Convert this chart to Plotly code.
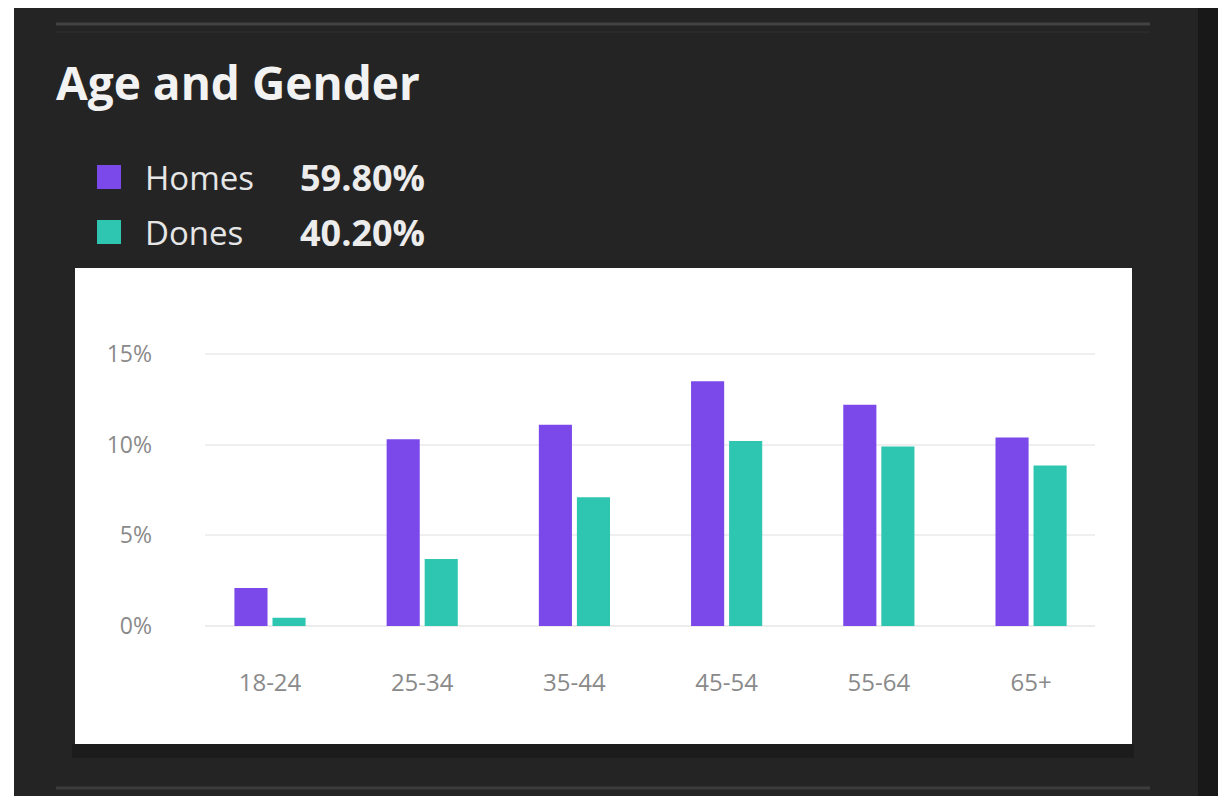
import plotly.graph_objects as go

# ---- data ----
age_groups = ["18-24", "25-34", "35-44", "45-54", "55-64", "65+"]
homes = [2.1, 10.3, 11.1, 13.5, 12.2, 10.4]
dones = [0.45, 3.7, 7.1, 10.2, 9.9, 8.85]
series_names = ["Homes", "Dones"]
series_totals = [59.80, 40.20]
series_colors = ["#7b48ea", "#2ec6b1"]
y_ticks = [0, 5, 10, 15]
y_tick_labels = [f"{v}%" for v in y_ticks]
title_text = "Age and Gender"

W, H = 1218, 796

def px(x):
    return x / W

def py(y):
    return (H - y) / H

fig = go.Figure()
fig.add_trace(go.Bar(x=age_groups, y=homes, name=series_names[0],
                     marker=dict(color=series_colors[0], line=dict(width=0))))
fig.add_trace(go.Bar(x=age_groups, y=dones, name=series_names[1],
                     marker=dict(color=series_colors[1], line=dict(width=0))))

shapes = [
    # light strips on top and left edge
    dict(type="rect", xref="paper", yref="paper", x0=0, x1=1, y0=py(8), y1=1,
         fillcolor="#ffffff", line=dict(width=0), layer="below"),
    dict(type="rect", xref="paper", yref="paper", x0=0, x1=px(14), y0=0, y1=1,
         fillcolor="#ffffff", line=dict(width=0), layer="below"),
    # dark right strip
    dict(type="rect", xref="paper", yref="paper", x0=px(1198), x1=1, y0=0, y1=py(8),
         fillcolor="#181818", line=dict(width=0), layer="below"),
    # separators
    dict(type="line", xref="paper", yref="paper", x0=px(56), x1=px(1150), y0=py(24), y1=py(24),
         line=dict(color="#424242", width=3), layer="below"),
    dict(type="line", xref="paper", yref="paper", x0=px(56), x1=px(1150), y0=py(32), y1=py(32),
         line=dict(color="#2a2a2a", width=2), layer="below"),
    dict(type="line", xref="paper", yref="paper", x0=px(56), x1=px(1150), y0=py(788), y1=py(788),
         line=dict(color="#3c3c3c", width=3), layer="below"),
    # panel shadow
    dict(type="rect", xref="paper", yref="paper", x0=px(72), x1=px(1134), y0=py(758), y1=py(744),
         fillcolor="#1c1c1c", line=dict(width=0), layer="below"),
    # white chart panel
    dict(type="rect", xref="paper", yref="paper", x0=px(75), x1=px(1132), y0=py(744), y1=py(268),
         fillcolor="#ffffff", line=dict(width=0), layer="below"),
]

annotations = [
    dict(text=f"<b>{title_text}</b>", xref="paper", yref="paper", x=px(54), y=py(82),
         xanchor="left", yanchor="middle", showarrow=False,
         font=dict(family="Open Sans", size=46, color="#f2f2f2")),
]

legend_rows_y = [177, 232]
for name, total, color, yy in zip(series_names, series_totals, series_colors, legend_rows_y):
    shapes.append(dict(type="rect", xref="paper", yref="paper",
                       x0=px(97), x1=px(121), y0=py(yy + 12), y1=py(yy - 12),
                       fillcolor=color, line=dict(width=0)))
    annotations.append(dict(text=name, xref="paper", yref="paper", x=px(143), y=py(yy),
                            xanchor="left", yanchor="middle", showarrow=False,
                            font=dict(family="Open Sans", size=33, color="#e6e6e6")))
    annotations.append(dict(text=f"<b>{total:.2f}%</b>", xref="paper", yref="paper",
                            x=px(298), y=py(yy), xanchor="left", yanchor="middle",
                            showarrow=False,
                            font=dict(family="Open Sans", size=36, color="#ececec")))

# plot area: x 205..1095, y 300..626 (0% at 626, 18.13 px per %)
y_top_px, y_zero_px = 300, 626
ppu = 18.13
fig.update_layout(
    width=W, height=H,
    margin=dict(l=0, r=0, t=0, b=0, pad=0, autoexpand=False),
    paper_bgcolor="#242424",
    plot_bgcolor="rgba(0,0,0,0)",
    showlegend=False,
    barmode="group",
    bargap=0.5,
    bargroupgap=0.13,
    shapes=shapes,
    annotations=annotations,
    xaxis=dict(domain=[px(205), px(1095)],
               range=[-0.427, 5.42], automargin=False,
               showgrid=False, zeroline=False, showline=False, ticks="",
               tickfont=dict(family="Open Sans", size=24, color="#8a8a8a"),
               ticklabelstandoff=40),
    yaxis=dict(domain=[py(y_zero_px), py(y_top_px)],
               range=[0, (y_zero_px - y_top_px) / ppu], automargin=False,
               tickmode="array", tickvals=y_ticks, ticktext=y_tick_labels,
               showgrid=True, gridcolor="#efefef", gridwidth=1.5,
               zeroline=True, zerolinecolor="#ececec", zerolinewidth=1.5,
               showline=False, ticks="",
               tickfont=dict(family="Open Sans", size=23, color="#8a8a8a"),
               ticklabelstandoff=52),
)

fig.write_html(
    "out.html",
    config={"displayModeBar": False},
    post_script=(
        "document.body.style.margin='0';"
        "document.body.style.overflow='hidden';"
        "document.documentElement.style.overflow='hidden';"
        "document.documentElement.style.background='#242424';"
    ),
)
